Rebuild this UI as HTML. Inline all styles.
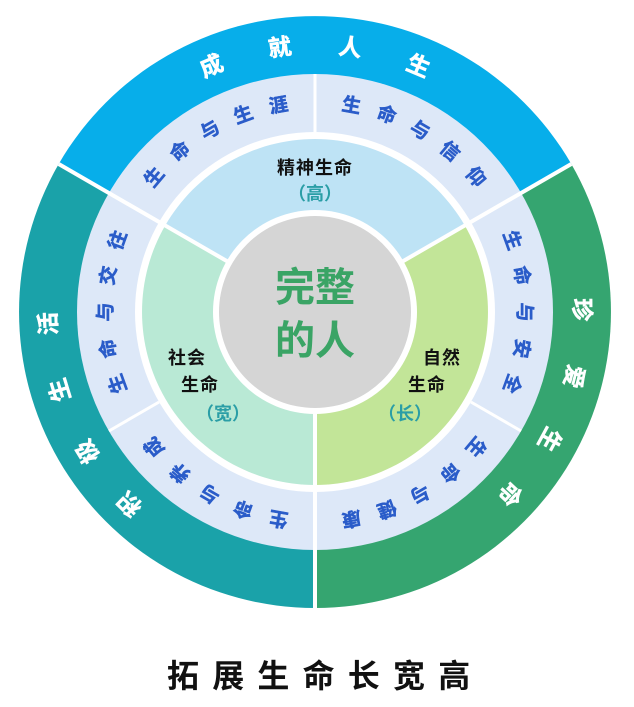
<!DOCTYPE html>
<html><head><meta charset="utf-8"><style>
html,body{margin:0;padding:0;background:#fff;width:634px;height:707px;overflow:hidden}
svg{display:block}
text{font-family:"Liberation Sans","Noto Sans CJK SC",sans-serif;font-weight:700}
.o{fill:#fff;font-size:23px;stroke:#fff;stroke-width:0.5}
.l{fill:#2a5cc9;font-size:19px;stroke:#2a5cc9;stroke-width:0.5}
.k{fill:#111;font-size:18px}
.t{fill:#2a9ea6;font-size:18px}
.c{fill:#3aa465;font-size:40px}
</style></head><body>
<svg width="634" height="707" viewBox="0 0 634 707" xmlns="http://www.w3.org/2000/svg">
<path d="M315,312 L58.7,164 A296,296 0 0 1 571.3,164 Z" fill="#07aeea"/>
<path d="M315,312 L571.3,164 A296,296 0 0 1 315,608 Z" fill="#35a570"/>
<path d="M315,312 L315,608 A296,296 0 0 1 58.7,164 Z" fill="#1aa2a9"/>
<circle cx="315" cy="312" r="238" fill="#dde8f8"/>
<circle cx="315" cy="312" r="180" fill="#fff"/>
<path d="M315,312 L165.2,225.5 A173,173 0 0 1 464.8,225.5 Z" fill="#bee3f5"/>
<path d="M315,312 L464.8,225.5 A173,173 0 0 1 315,485 Z" fill="#c2e598"/>
<path d="M315,312 L315,485 A173,173 0 0 1 165.2,225.5 Z" fill="#b9e9d5"/>
<g stroke="#fff" stroke-width="4">
<line x1="315" y1="312" x2="571.3" y2="164"/>
<line x1="315" y1="312" x2="58.7" y2="164"/>
<line x1="315" y1="312" x2="315" y2="608"/>
</g>
<g stroke="#fff" stroke-width="3">
<line x1="315" y1="132" x2="315" y2="74"/>
<line x1="470.9" y1="402" x2="521.1" y2="431"/>
<line x1="159.1" y1="402" x2="108.9" y2="431"/>
</g>
<circle cx="315" cy="312" r="102" fill="#fff"/>
<circle cx="315" cy="312" r="96" fill="#d5d5d5"/>
<g text-anchor="middle" dominant-baseline="central">
<g class="o">
<text x="315" y="45" transform="rotate(-22.8 315 312)">成</text>
<text x="315" y="45" transform="rotate(-7.6 315 312)">就</text>
<text x="315" y="45" transform="rotate(7.6 315 312)">人</text>
<text x="315" y="45" transform="rotate(22.8 315 312)">生</text>
<text x="315" y="45" transform="rotate(89.5 315 312)">珍</text>
<text x="315" y="45" transform="rotate(104 315 312)">爱</text>
<text x="315" y="45" transform="rotate(118.5 315 312)">生</text>
<text x="315" y="45" transform="rotate(133 315 312)">命</text>
<text x="315" y="45" transform="rotate(224 315 312)">积</text>
<text x="315" y="45" transform="rotate(238.5 315 312)">极</text>
<text x="315" y="45" transform="rotate(253 315 312)">生</text>
<text x="315" y="45" transform="rotate(267.5 315 312)">活</text>
</g>
<g class="l">
<text x="315" y="103" transform="rotate(-50 315 312)">生</text>
<text x="315" y="103" transform="rotate(-40 315 312)">命</text>
<text x="315" y="103" transform="rotate(-30 315 312)">与</text>
<text x="315" y="103" transform="rotate(-20 315 312)">生</text>
<text x="315" y="103" transform="rotate(-10 315 312)">涯</text>
<text x="315" y="103" transform="rotate(10 315 312)">生</text>
<text x="315" y="103" transform="rotate(20 315 312)">命</text>
<text x="315" y="103" transform="rotate(30 315 312)">与</text>
<text x="315" y="103" transform="rotate(40 315 312)">信</text>
<text x="315" y="103" transform="rotate(50 315 312)">仰</text>
<text x="315" y="103" transform="rotate(70 315 312)">生</text>
<text x="315" y="103" transform="rotate(80 315 312)">命</text>
<text x="315" y="103" transform="rotate(90 315 312)">与</text>
<text x="315" y="103" transform="rotate(100 315 312)">安</text>
<text x="315" y="103" transform="rotate(110 315 312)">全</text>
<text x="315" y="103" transform="rotate(130 315 312)">生</text>
<text x="315" y="103" transform="rotate(140 315 312)">命</text>
<text x="315" y="103" transform="rotate(150 315 312)">与</text>
<text x="315" y="103" transform="rotate(160 315 312)">健</text>
<text x="315" y="103" transform="rotate(170 315 312)">康</text>
<text x="315" y="103" transform="rotate(190 315 312)">生</text>
<text x="315" y="103" transform="rotate(200 315 312)">命</text>
<text x="315" y="103" transform="rotate(210 315 312)">与</text>
<text x="315" y="103" transform="rotate(220 315 312)">养</text>
<text x="315" y="103" transform="rotate(230 315 312)">成</text>
<text x="315" y="103" transform="rotate(250 315 312)">生</text>
<text x="315" y="103" transform="rotate(260 315 312)">命</text>
<text x="315" y="103" transform="rotate(270 315 312)">与</text>
<text x="315" y="103" transform="rotate(280 315 312)">交</text>
<text x="315" y="103" transform="rotate(290 315 312)">往</text>
</g>
<text class="k" x="315" y="168" letter-spacing="1">精神生命</text>
<text class="t" x="315" y="194">（高）</text>
<text class="k" x="442" y="358" letter-spacing="1">自然</text>
<text class="k" x="427" y="385" letter-spacing="1">生命</text>
<text class="t" x="405" y="414">（长）</text>
<text class="k" x="187" y="358" letter-spacing="1">社会</text>
<text class="k" x="200" y="385" letter-spacing="1">生命</text>
<text class="t" x="223" y="414">（宽）</text>
<text class="c" x="315" y="288">完整</text>
<text class="c" x="315" y="341">的人</text>
<g font-size="32" fill="#111">
<text x="183" y="676">拓</text>
<text x="228.2" y="676">展</text>
<text x="273.4" y="676">生</text>
<text x="318.6" y="676">命</text>
<text x="363.8" y="676">长</text>
<text x="409" y="676">宽</text>
<text x="454.2" y="676">高</text>
</g>
</g>
</svg>
</body></html>
